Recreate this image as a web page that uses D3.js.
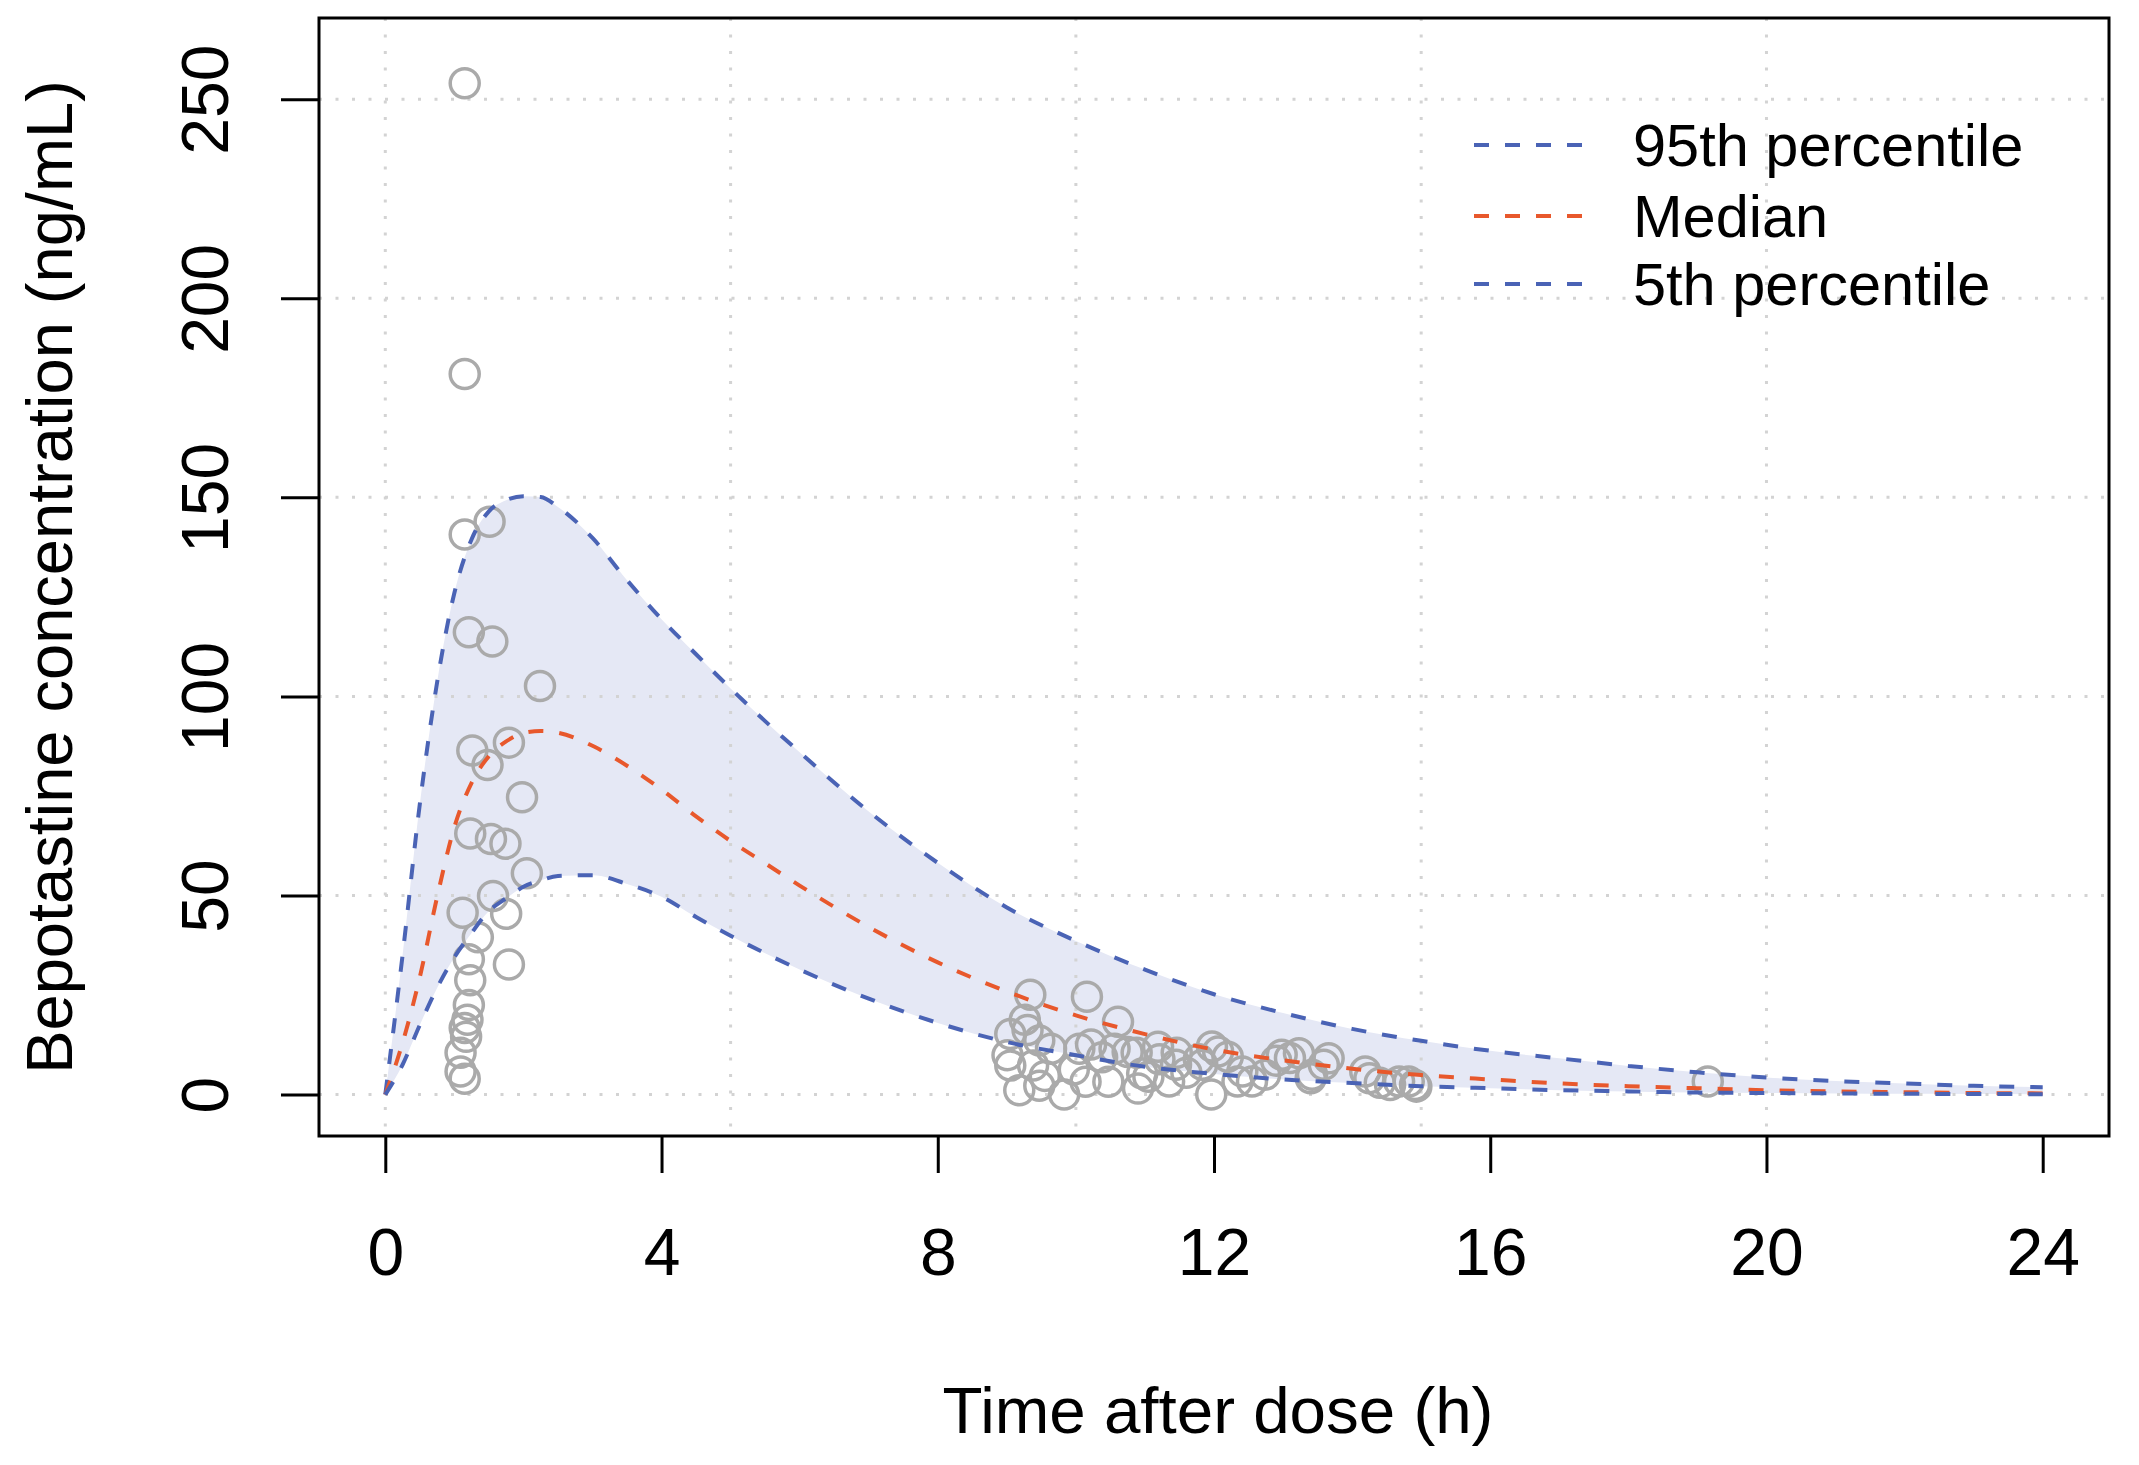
<!DOCTYPE html>
<html>
<head>
<meta charset="utf-8">
<script src="https://cdn.jsdelivr.net/npm/d3@7"></script>
<style>
  body { margin: 0; background: #fff; }
  text { font-family: "Liberation Sans", Arial, sans-serif; fill: #000; }
</style>
</head>
<body>
<div id="chart"></div>
<script>
const width = 2139;
const height = 1465;

// simulated percentiles on a common time grid (h)
const times = [0, 0.25, 0.5, 0.75, 1, 1.25, 1.5, 1.75, 2, 2.25, 2.5, 3, 3.5, 4, 4.5, 5, 5.5, 6,
    7, 8, 9, 10, 11, 12, 13, 14, 15, 16, 17, 18, 19, 20, 21, 22, 23, 24];
const p95 = [0, 35, 73, 103.5, 126, 139.5, 146.5, 149.3, 150.3, 150.1, 147.6, 139.8, 129.2, 119.4, 110.6, 102, 93.8, 86,
    71.1, 58.2, 47, 38.6, 31.4, 25.2, 20.5, 16.5, 13.5, 11, 9.1, 7.2, 5.6, 4.3, 3.4, 2.8, 2.2, 1.85];
const median = [0, 13, 29.5, 49.6, 67.2, 78.3, 85, 88.7, 90.8, 91.3, 90.9, 87.6, 82.6, 76.6, 69.9, 63.7, 58.1, 52.5,
    42.1, 33.2, 25.9, 19.9, 15.2, 11.3, 8.6, 6.5, 4.9, 3.8, 2.8, 2.1, 1.6, 1.1, 0.8, 0.6, 0.4, 0.3];
const p5 = [0, 7.5, 17.5, 26.8, 34.5, 40.6, 46.1, 49.3, 52.2, 53.8, 54.9, 55.1, 52.9, 49.7, 44.6, 39.9, 35.5, 31.4,
    24.1, 18, 13.2, 9.9, 7, 5.2, 3.8, 2.9, 2.1, 1.6, 1.1, 0.8, 0.5, 0.4, 0.3, 0.2, 0.15, 0.1];

// observed concentrations
const obsTime = [1.15, 1.15, 1.15, 1.51, 1.21, 1.55, 2.24, 1.26, 1.79, 1.48, 1.98, 1.23, 1.53, 1.74, 2.05, 1.56,
    1.12, 1.75, 1.34, 1.21, 1.79, 1.23, 1.21, 1.19, 1.15, 1.17, 1.09, 1.09, 1.15,
    9.01, 9.05, 9.05, 9.18, 9.26, 9.30, 9.34, 9.38, 9.47, 9.47, 9.55, 9.64, 9.83, 9.97, 10.05, 10.14, 10.16,
    10.22, 10.38, 10.47, 10.56, 10.61, 10.75, 10.88, 10.9, 10.96, 11.05, 11.19, 11.21, 11.35, 11.45, 11.46,
    11.6, 11.78, 11.83, 11.96, 11.97, 12.06, 12.2, 12.34, 12.41, 12.55, 12.74, 12.9, 12.98, 13.1, 13.23,
    13.40, 13.42, 13.59, 13.66, 14.19, 14.25, 14.4, 14.55, 14.68, 14.82, 14.91, 14.93, 19.15];
const obsConc = [254, 181, 140.7, 143.9, 116.1, 113.8, 102.6, 86.4, 88.4, 82.8, 74.7, 65.6, 64.2, 63.0, 55.6, 49.9,
    45.7, 45.4, 39.5, 34.0, 32.7, 28.7, 22.5, 18.8, 16.7, 14.5, 10.5, 5.8, 4.0,
    9.9, 15.2, 7.3, 1.1, 18.8, 16.2, 25.1, 7.3, 13.6, 2.2, 4.7, 11.5, 0, 6.3, 11.5, 3.2, 24.6,
    12.6, 9.4, 3.2, 11.5, 18.3, 10.7, 10.5, 1.5, 5.3, 4.5, 12.0, 8.9, 3.3, 7.5, 10.5,
    5.5, 8.9, 7.5, 0, 12.1, 10.8, 9.5, 3.3, 5.8, 3.3, 5.0, 8.5, 10.0, 9.2, 10.4,
    4.1, 5.0, 7.5, 9.1, 5.8, 4.1, 3.0, 2.4, 3.3, 3.3, 2.4, 2.0, 3.3];

const xTicks = [0, 4, 8, 12, 16, 20, 24];
const yTicks = [0, 50, 100, 150, 200, 250];
const xGrid = [0, 5, 10, 15, 20];
const legendLabels = ["95th percentile", "Median", "5th percentile"];

const blue = "#4a63b5";
const red = "#e8582c";

const plot = { left: 319, right: 2109, top: 18, bottom: 1136 };

const x = d3.scaleLinear().domain([-0.96, 24.96]).range([plot.left, plot.right]);
const y = d3.scaleLinear().domain([-10.4, 270.4]).range([plot.bottom, plot.top]);

const svg = d3.select("#chart").append("svg")
    .attr("width", width)
    .attr("height", height)
    .style("background", "#fff");

const rows = times.map((t, i) => ({ t, hi: p95[i], med: median[i], lo: p5[i] }));

// band between 5th and 95th percentile
svg.append("path")
    .datum(rows)
    .attr("fill", "#e5e8f5")
    .attr("d", d3.area()
        .curve(d3.curveMonotoneX)
        .x(d => x(d.t))
        .y0(d => y(d.lo))
        .y1(d => y(d.hi)));

// dotted grid
const grid = svg.append("g")
    .attr("stroke", "#d3d3d3")
    .attr("stroke-width", 3)
    .attr("stroke-dasharray", "3,13.5");
grid.selectAll(".gx").data(xGrid).join("line")
    .attr("x1", d => x(d)).attr("x2", d => x(d))
    .attr("y1", plot.top).attr("y2", plot.bottom);
grid.selectAll(".gy").data(yTicks).join("line")
    .attr("y1", d => y(d)).attr("y2", d => y(d))
    .attr("x1", plot.left).attr("x2", plot.right);

// observed points
svg.append("g").selectAll("circle")
    .data(obsTime.map((t, i) => [t, obsConc[i]]))
    .join("circle")
    .attr("cx", d => x(d[0]))
    .attr("cy", d => y(d[1]))
    .attr("r", 14.5)
    .attr("fill", "none")
    .attr("stroke", "#aaaaaa")
    .attr("stroke-width", 3.5);

// percentile lines
const series = [
    { key: "hi", color: blue },
    { key: "med", color: red },
    { key: "lo", color: blue }
];
series.forEach(s => {
    svg.append("path")
        .datum(rows)
        .attr("fill", "none")
        .attr("stroke", s.color)
        .attr("stroke-width", 4)
        .attr("stroke-dasharray", "15,16")
        .attr("d", d3.line().curve(d3.curveMonotoneX).x(d => x(d.t)).y(d => y(d[s.key])));
});

// axes
const xAxis = svg.append("g")
    .attr("transform", `translate(0,${plot.bottom})`)
    .call(d3.axisBottom(x).tickValues(xTicks).tickSize(37).tickSizeOuter(0).tickPadding(55));
xAxis.select(".domain").remove();
xAxis.selectAll("line").attr("stroke", "#000").attr("stroke-width", 3);
xAxis.selectAll("text").attr("font-size", 66).attr("font-family", "Liberation Sans, Arial");

const yAxis = svg.append("g")
    .attr("transform", `translate(${plot.left},0)`)
    .call(d3.axisLeft(y).tickValues(yTicks).tickSize(38).tickSizeOuter(0));
yAxis.select(".domain").remove();
yAxis.selectAll("line").attr("stroke", "#000").attr("stroke-width", 3);
yAxis.selectAll("text")
    .attr("font-size", 66)
    .attr("font-family", "Liberation Sans, Arial")
    .attr("transform", "rotate(-90)")
    .attr("text-anchor", "middle")
    .attr("x", 0)
    .attr("y", -91)
    .attr("dy", 0);

// box
svg.append("rect")
    .attr("x", plot.left).attr("y", plot.top)
    .attr("width", plot.right - plot.left)
    .attr("height", plot.bottom - plot.top)
    .attr("fill", "none")
    .attr("stroke", "#000")
    .attr("stroke-width", 3);

// axis titles
svg.append("text")
    .attr("x", (plot.left + plot.right) / 2 + 4)
    .attr("y", 1433)
    .attr("text-anchor", "middle")
    .attr("font-size", 65.5)
    .text("Time after dose (h)");

svg.append("text")
    .attr("transform", `translate(72,${(plot.top + plot.bottom) / 2}) rotate(-90)`)
    .attr("text-anchor", "middle")
    .attr("font-size", 65)
    .text("Bepotastine concentration (ng/mL)");

// legend
const legendColors = [blue, red, blue];
const legendY = [145, 216, 284];
const legend = svg.append("g");
legendLabels.forEach((label, i) => {
    legend.append("line")
        .attr("x1", 1474).attr("x2", 1582)
        .attr("y1", legendY[i]).attr("y2", legendY[i])
        .attr("stroke", legendColors[i])
        .attr("stroke-width", 4)
        .attr("stroke-dasharray", "15,16");
    legend.append("text")
        .attr("x", 1633)
        .attr("y", legendY[i])
        .attr("dy", "0.36em")
        .attr("font-size", 59.5)
        .text(label);
});
</script>
</body>
</html>
